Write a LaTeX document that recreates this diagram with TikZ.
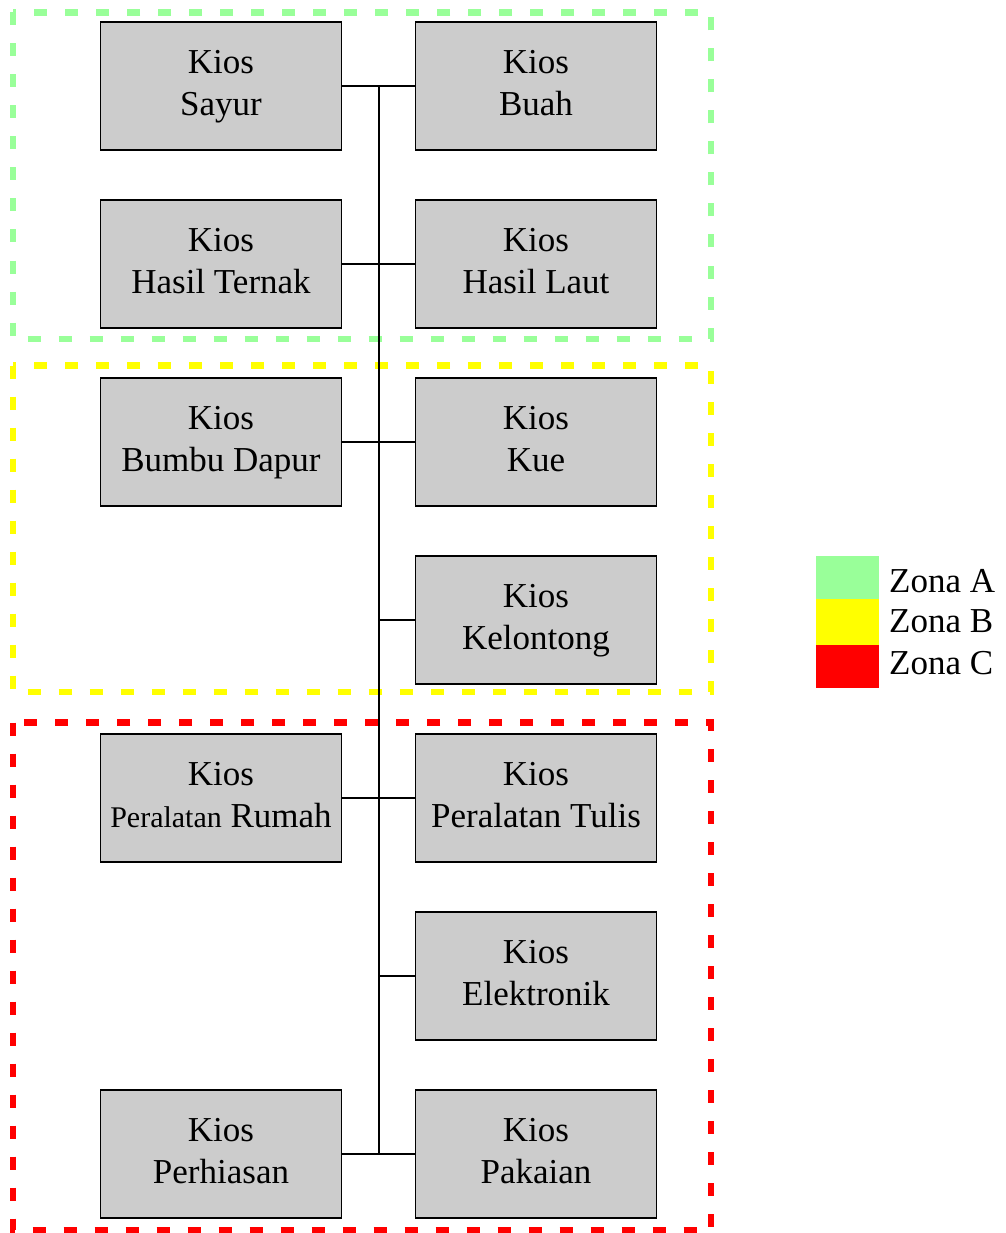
\documentclass[tikz,border=0pt]{standalone}
\usepackage{fontspec}
\setmainfont{Liberation Serif}
\definecolor{zonaA}{HTML}{99FF99}
\definecolor{zonaB}{HTML}{FFFF00}
\definecolor{zonaC}{HTML}{FF0000}
\definecolor{kiosfill}{HTML}{CCCCCC}
% two struck lines per kiosk label, so every label sits at the same height
\newcommand{\kioslabel}[1]{\strut Kios\\\strut #1}
\tikzset{
  kios/.style={draw=black, line width=1.4pt, fill=kiosfill, minimum width=241pt,
    minimum height=128pt, inner sep=0pt, align=center,
    font=\fontsize{35}{42}\selectfont},
  zone/.style={line width=6.5pt, dash pattern=on 13pt off 18pt},
  link/.style={draw=black, line width=1.2pt},
  legendtext/.style={anchor=west, inner sep=0pt, font=\fontsize{35}{42}\selectfont},
}
\begin{document}
\begin{tikzpicture}[x=1pt, y=-1pt]
\useasboundingbox (0,0) rectangle (1005,1233);

% zones
\draw[zone, zonaA] (13,12.5) rectangle (711,339);
\draw[zone, zonaB] (13,365.5) rectangle (711,692);
\draw[zone, zonaC] (13,722.5) rectangle (711,1230);

% kiosks, left column
\node[kios] (sayur)     at (221,86)   {\kioslabel{Sayur}};
\node[kios] (ternak)    at (221,264)  {\kioslabel{Hasil Ternak}};
\node[kios] (bumbu)     at (221,442)  {\kioslabel{Bumbu Dapur}};
\node[kios] (rumah)     at (221,798)  {\kioslabel{{\fontsize{30}{42}\selectfont Peralatan} Rumah}};
\node[kios] (perhiasan) at (221,1154) {\kioslabel{Perhiasan}};

% kiosks, right column
\node[kios] (buah)       at (536,86)   {\kioslabel{Buah}};
\node[kios] (laut)       at (536,264)  {\kioslabel{Hasil Laut}};
\node[kios] (kue)        at (536,442)  {\kioslabel{Kue}};
\node[kios] (kelontong)  at (536,620)  {\kioslabel{Kelontong}};
\node[kios] (tulis)      at (536,798)  {\kioslabel{Peralatan Tulis}};
\node[kios] (elektronik) at (536,976)  {\kioslabel{Elektronik}};
\node[kios] (pakaian)    at (536,1154) {\kioslabel{Pakaian}};

% trunk junctions
\coordinate (j1) at (379,86);
\coordinate (j2) at (379,264);
\coordinate (j3) at (379,442);
\coordinate (j4) at (379,620);
\coordinate (j5) at (379,798);
\coordinate (j6) at (379,976);
\coordinate (j7) at (379,1154);

\draw[link] (j1) -- (j7);
\draw[link] (sayur.east) -- (j1) -- (buah.west);
\draw[link] (ternak.east) -- (j2) -- (laut.west);
\draw[link] (bumbu.east) -- (j3) -- (kue.west);
\draw[link] (j4) -- (kelontong.west);
\draw[link] (rumah.east) -- (j5) -- (tulis.west);
\draw[link] (j6) -- (elektronik.west);
\draw[link] (perhiasan.east) -- (j7) -- (pakaian.west);

% legend
\fill[zonaA] (816,556) rectangle (879,599);
\fill[zonaB] (816,599) rectangle (879,645);
\fill[zonaC] (816,645) rectangle (879,688);
\node[legendtext] (legA) at (889,581) {Zona A};
\node[legendtext] (legB) at (889,621) {Zona B};
\node[legendtext] (legC) at (889,663) {Zona C};
\end{tikzpicture}
\end{document}
